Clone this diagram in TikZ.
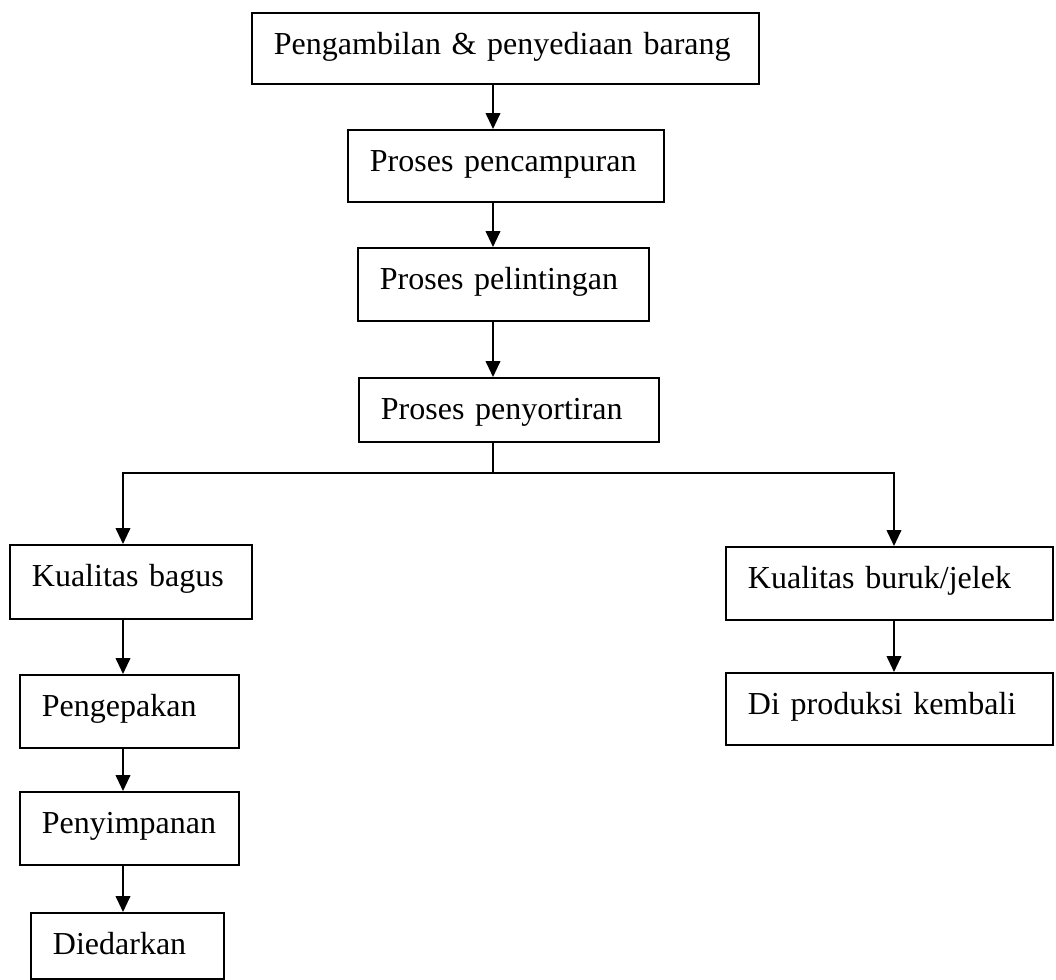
\documentclass[tikz,border=0pt]{standalone}
\usepackage{fontspec}
\setmainfont{Liberation Serif}
\usetikzlibrary{arrows.meta}

\begin{document}
\begin{tikzpicture}[x=0.75pt, y=-0.75pt, line width=1.4pt,
  box/.style={draw, anchor=north west, align=left, inner xsep=16.5pt, inner ysep=0pt,
    text height=31.5pt, font=\fontsize{24}{28}\selectfont},
  arr/.style={-{Triangle[width=11pt,length=12pt]}}]
\useasboundingbox (0,0) rectangle (1056,979);
% proses utama
\node[box, text width=347.25pt, text depth=21.75pt] (ambil)   at (251,12)  {Pengambilan \& penyediaan barang};
\node[box, text width=204pt,    text depth=22.5pt]  (campur)  at (347,129) {Proses pencampuran};
\node[box, text width=185.25pt, text depth=23.25pt] (linting) at (357,247) {Proses pelintingan};
\node[box, text width=192pt,    text depth=16.5pt]  (sortir)  at (358,377) {Proses penyortiran};
% cabang kiri
\node[box, text width=148.5pt,  text depth=24pt]    (bagus)   at (9,544)   {Kualitas bagus};
\node[box, text width=131.25pt, text depth=23.25pt] (kemas)   at (19,674)  {Pengepakan};
\node[box, text width=131.25pt, text depth=23.25pt] (simpan)  at (19,791)  {Penyimpanan};
\node[box, text width=111.75pt, text depth=18pt]    (edar)    at (30,912)  {Diedarkan};
% cabang kanan
\node[box, text width=212.25pt, text depth=23.25pt] (buruk)   at (725,546) {Kualitas buruk/jelek};
\node[box, text width=212.25pt, text depth=22.5pt]  (ulang)   at (725,672) {Di produksi kembali};

\coordinate (tengah) at (493,473);
\coordinate (kiri)   at (123,473);
\coordinate (kanan)  at (894,473);

\draw[arr] (ambil.south -| tengah) -- (campur.north -| tengah);
\draw[arr] (campur.south -| tengah) -- (linting.north -| tengah);
\draw[arr] (linting.south -| tengah) -- (sortir.north -| tengah);
\draw (sortir.south -| tengah) -- (tengah);
\draw[arr] (tengah) -| (bagus.north -| kiri);
\draw[arr] (tengah) -| (buruk.north -| kanan);
\draw[arr] (bagus.south -| kiri) -- (kemas.north -| kiri);
\draw[arr] (kemas.south -| kiri) -- (simpan.north -| kiri);
\draw[arr] (simpan.south -| kiri) -- (edar.north -| kiri);
\draw[arr] (buruk.south -| kanan) -- (ulang.north -| kanan);
\end{tikzpicture}
\end{document}
